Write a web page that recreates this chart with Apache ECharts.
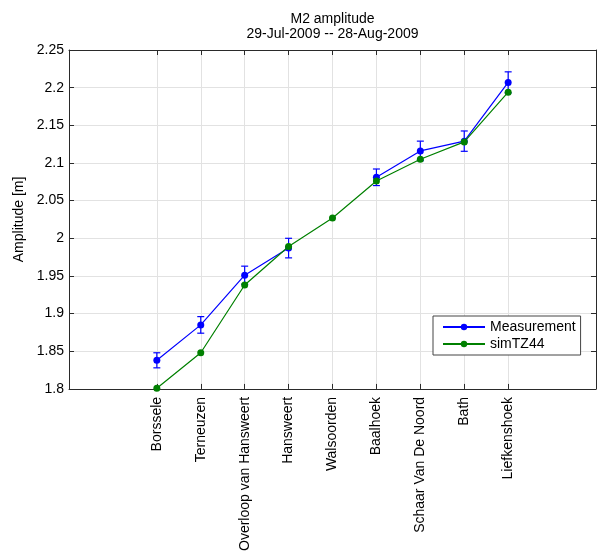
<!DOCTYPE html>
<html><head><meta charset="utf-8">
<script src="https://cdn.jsdelivr.net/npm/echarts@6/dist/echarts.min.js"></script>
<style>html,body{margin:0;padding:0;background:#fff}#c{width:598px;height:554px}</style>
</head><body><div id="c"></div>
<script>
const stations = ['Borssele','Terneuzen','Overloop van Hansweert','Hansweert','Walsoorden','Baalhoek','Schaar Van De Noord','Bath','Liefkenshoek'];
const measurement = [1.838, 1.885, 1.951, 1.987, null, 2.081, 2.116, 2.129, 2.207];
const measurementErr = [0.010, 0.011, 0.012, 0.013, null, 0.011, 0.013, 0.0135, 0.014];
const simTZ44 = [1.801, 1.848, 1.938, 1.989, 2.027, 2.076, 2.105, 2.128, 2.194];
const yMin = 1.8, yMax = 2.25, yStep = 0.05;
const titleText = 'M2 amplitude\n29-Jul-2009 -- 28-Aug-2009';
const yName = 'Amplitude [m]';
const seriesNames = ['Measurement', 'simTZ44'];

const PAD = 2;
const cats = [];
for (let i = 0; i < PAD; i++) cats.push('pad_l' + i);
stations.forEach(s => cats.push(s));
for (let i = 0; i < PAD; i++) cats.push('pad_r' + i);
const isReal = (idx) => idx >= PAD && idx < PAD + stations.length;
const pad = (arr) => { const out = []; for (let i = 0; i < PAD; i++) out.push(null); arr.forEach(v => out.push(v)); for (let i = 0; i < PAD; i++) out.push(null); return out; };

const errData = [];
measurement.forEach((v, i) => { if (v != null && measurementErr[i] != null) errData.push([i + PAD, v - measurementErr[i], v + measurementErr[i]]); });

const FONT = 'Liberation Sans, Arial, sans-serif';
const AX = '#2a2a2a';
const GRID = '#e2e2e2';

const chart = echarts.init(document.getElementById('c'), null, {renderer: 'canvas'});
const xBase = {
  type: 'category', data: cats, boundaryGap: false,
  axisLine: {onZero: false, lineStyle: {color: AX, width: 1}},
  axisTick: {inside: true, length: 5, interval: (i) => isReal(i), lineStyle: {color: AX}},
};
chart.setOption({
  animation: false,
  backgroundColor: '#fff',
  textStyle: {fontFamily: FONT},
  title: {text: titleText, left: 332.5, textAlign: 'center', top: 12, padding: 0,
    textStyle: {fontSize: 14, fontWeight: 'normal', color: '#000', lineHeight: 15, fontFamily: FONT}},
  grid: {left: 69, right: 2, top: 50, bottom: 160, containLabel: false},
  legend: {
    orient: 'vertical', left: 433, top: 316, padding: [3, 5, 3, 9],
    itemWidth: 42, itemHeight: 8, itemGap: 1,
    borderColor: '#444', borderWidth: 1, backgroundColor: '#fff',
    textStyle: {fontSize: 14, color: '#000', lineHeight: 16, padding: [0, 0, 0, 0], fontFamily: FONT},
    data: seriesNames
  },
  xAxis: [
    Object.assign({}, xBase, {
      position: 'bottom',
      axisLabel: {rotate: 90, margin: 8, fontSize: 14, color: '#000', interval: (i) => isReal(i), fontFamily: FONT},
      splitLine: {show: true, interval: (i) => isReal(i), lineStyle: {color: GRID, width: 1}}
    }),
    Object.assign({}, xBase, {
      position: 'top', axisLabel: {show: false}, splitLine: {show: false}
    })
  ],
  yAxis: [
    {type: 'value', min: yMin, max: yMax, interval: yStep, position: 'left',
      name: yName, nameLocation: 'middle', nameGap: 37, nameRotate: 90,
      nameTextStyle: {fontSize: 14, color: '#000', fontFamily: FONT},
      axisLine: {show: true, lineStyle: {color: AX}},
      axisTick: {show: true, inside: true, length: 5, lineStyle: {color: AX}},
      axisLabel: {fontSize: 14, color: '#000', margin: 5, fontFamily: FONT},
      splitLine: {show: true, lineStyle: {color: GRID, width: 1}}},
    {type: 'value', min: yMin, max: yMax, interval: yStep, position: 'right',
      axisLine: {show: true, lineStyle: {color: AX}},
      axisTick: {show: true, inside: true, length: 5, lineStyle: {color: AX}},
      axisLabel: {show: false}, splitLine: {show: false}}
  ],
  series: [
    {name: seriesNames[0], type: 'line', data: pad(measurement), connectNulls: false,
      symbol: 'circle', symbolSize: 7, showAllSymbol: true,
      lineStyle: {color: '#0000ff', width: 1.2}, itemStyle: {color: '#0000ff'}, z: 3},
    {name: 'err', type: 'custom', data: errData, z: 3, silent: true,
      renderItem: function (params, api) {
        const x = api.value(0);
        const lo = api.coord([x, api.value(1)]);
        const hi = api.coord([x, api.value(2)]);
        const w = 3.5;
        const st = {stroke: '#0000ff', lineWidth: 1.2};
        return {type: 'group', children: [
          {type: 'line', shape: {x1: lo[0], y1: lo[1], x2: hi[0], y2: hi[1]}, style: st},
          {type: 'line', shape: {x1: lo[0] - w, y1: lo[1], x2: lo[0] + w, y2: lo[1]}, style: st},
          {type: 'line', shape: {x1: hi[0] - w, y1: hi[1], x2: hi[0] + w, y2: hi[1]}, style: st}
        ]};
      }},
    {name: seriesNames[1], type: 'line', data: pad(simTZ44), connectNulls: false,
      symbol: 'circle', symbolSize: 7, showAllSymbol: true,
      lineStyle: {color: '#008000', width: 1.2}, itemStyle: {color: '#008000'}, z: 4}
  ]
});
</script>
</body></html>
